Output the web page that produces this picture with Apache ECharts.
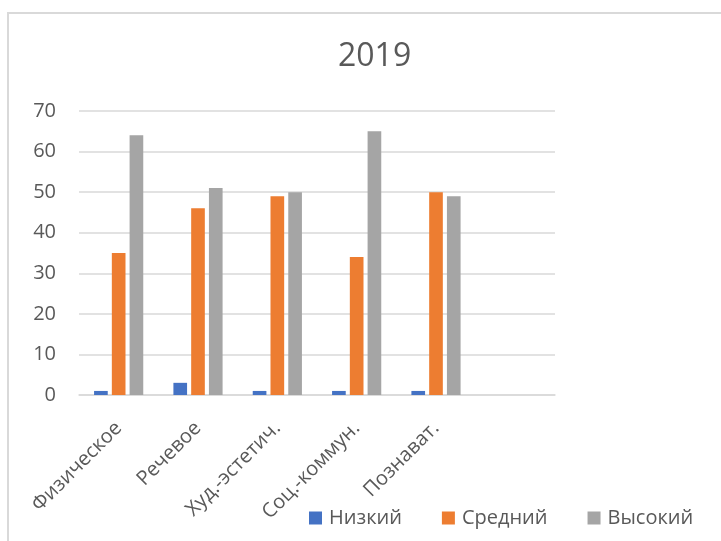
<!DOCTYPE html>
<html>
<head>
<meta charset="utf-8">
<script src="https://cdn.jsdelivr.net/npm/echarts@6/dist/echarts.min.js"></script>
<style>
  html, body { margin: 0; padding: 0; background: #fff; }
  #chart { width: 721px; height: 541px; }
</style>
</head>
<body>
<div id="chart"></div>
<script>
// data
const categories = ["Физическое", "Речевое", "Худ.-эстетич.", "Соц.-коммун.", "Познават.", ""];
const seriesNames = ["Низкий", "Средний", "Высокий"];
const low = [1, 3, 1, 1, 1];
const mid = [35, 46, 49, 34, 50];
const high = [64, 51, 50, 65, 49];
const yTicks = { min: 0, max: 70, interval: 10 };

const colors = ["#4472C4", "#ED7D31", "#A5A5A5"];
const font = "'Open Sans', 'Noto Sans', sans-serif";
const textColor = "#595959";

const chart = echarts.init(document.getElementById("chart"));

const option = {
  animation: false,
  color: colors,
  title: {
    text: "2019",
    left: 333,
    top: 36,
    textStyle: { fontFamily: font, fontSize: 32, fontWeight: "normal", color: textColor }
  },
  legend: {
    data: seriesNames,
    left: 304,
    top: 503,
    itemWidth: 13,
    itemHeight: 13,
    itemGap: 40,
    icon: "rect",
    textStyle: { fontFamily: font, fontSize: 20, color: textColor, padding: [0, 0, 0, 2] }
  },
  graphic: [{
    type: "rect",
    shape: { x: 8, y: 13, width: 800, height: 600 },
    style: { fill: "none", stroke: "#d9d9d9", lineWidth: 2 },
    silent: true
  }],
  grid: { left: 79, right: 166, top: 111, bottom: 146 },
  xAxis: {
    type: "category",
    data: categories,
    axisLine: { lineStyle: { color: "#d9d9d9", width: 1.5 } },
    axisTick: { show: false },
    axisLabel: {
      rotate: 45,
      interval: 0,
      margin: 30,
      fontFamily: font,
      fontSize: 20,
      color: textColor
    }
  },
  yAxis: {
    type: "value",
    min: yTicks.min,
    max: yTicks.max,
    interval: yTicks.interval,
    axisLine: { show: false },
    axisTick: { show: false },
    splitLine: { lineStyle: { color: "#d9d9d9", width: 1.5 } },
    axisLabel: { margin: 23, fontFamily: font, fontSize: 20, color: textColor }
  },
  series: [
    { name: seriesNames[0], type: "bar", data: low, barGap: "30%", barCategoryGap: "38%" },
    { name: seriesNames[1], type: "bar", data: mid, barGap: "30%", barCategoryGap: "38%" },
    { name: seriesNames[2], type: "bar", data: high, barGap: "30%", barCategoryGap: "38%" }
  ]
};

chart.setOption(option);
</script>
</body>
</html>
